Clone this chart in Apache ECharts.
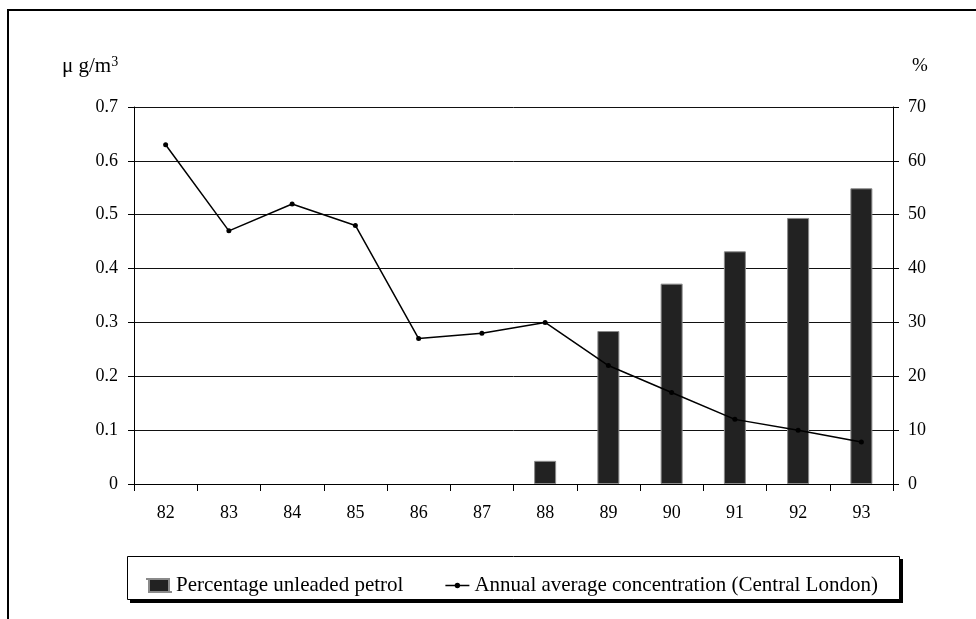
<!DOCTYPE html>
<html>
<head>
<meta charset="utf-8">
<script src="https://cdn.jsdelivr.net/npm/echarts@6/dist/echarts.min.js"></script>
<style>
html,body{margin:0;padding:0;background:#fff;}
#c{width:976px;height:619px;}
</style>
</head>
<body>
<div id="c"></div>
<script>
var categories = ['82','83','84','85','86','87','88','89','90','91','92','93'];
var unleadedPct = [null,null,null,null,null,null,4.3,28.4,37.2,43.2,49.4,54.9];
var leadConc = [0.63,0.47,0.52,0.48,0.27,0.28,0.30,0.22,0.17,0.12,0.10,0.078];
var leftTicks = ['0','0.1','0.2','0.3','0.4','0.5','0.6','0.7'];
var rightTicks = ['0','10','20','30','40','50','60','70'];

var FONT = '"Liberation Serif", "Times New Roman", serif';
var barIcon = 'path://M0,0h0.01v0.01h-0.01zM24,13h-0.01v-0.01h0.01zM2,0h20v13h-20z';
var lineIcon = 'path://M0,0h0.01v0.01h-0.01zM24,13h-0.01v-0.01h0.01zM0,5.8h9.6v1.5h-9.6zM14.4,5.8h9.6v1.5h-9.6zM9.3,6.55a2.7,2.7 0 1,1 5.4,0a2.7,2.7 0 1,1 -5.4,0z';

var chart = echarts.init(document.getElementById('c'), null, {renderer:'canvas'});
chart.setOption({
  animation:false,
  backgroundColor:'#fff',
  textStyle:{fontFamily:FONT},
  grid:{left:134, right:83, top:107, bottom:135},
  graphic:[
    {type:'rect', shape:{x:8, y:10, width:1000, height:700}, style:{fill:null, stroke:'#000', lineWidth:2}, z:0},
    {type:'rect', shape:{x:130, y:559, width:773, height:44}, style:{fill:'#000'}, z:1},
    {type:'rect', shape:{x:127.5, y:556.5, width:772, height:43},
     style:{fill:'#fff', stroke:'#000', lineWidth:1}, z:2},
    {type:'text', left:62, top:55, z:5,
     style:{text:'{a|μ g/m}{b|3}', fontFamily:FONT,
       rich:{a:{fontSize:21, fontFamily:FONT, fill:'#000'}, b:{fontSize:14, fontFamily:FONT, fill:'#000', verticalAlign:'top', padding:[0,0,9,0]}}}},
    {type:'text', left:912, top:57, z:5, style:{text:'%', fontSize:19, fontFamily:FONT, fill:'#000'}}
  ],
  legend:{
    left:141, top:570, itemGap:42, itemWidth:24, itemHeight:13, symbolKeepAspect:true,
    textStyle:{fontSize:21, fontFamily:FONT, color:'#000'},
    data:[{name:'Percentage unleaded petrol', icon:barIcon},
          {name:'Annual average concentration (Central London)', icon:lineIcon}],
    z:10
  },
  xAxis:{
    type:'category', data:categories, boundaryGap:true,
    axisLine:{lineStyle:{color:'#000', width:1}},
    axisTick:{show:true, length:7, interval:0, lineStyle:{color:'#000'}},
    axisLabel:{fontSize:18, fontFamily:FONT, color:'#000', margin:20, interval:0},
    splitLine:{show:false}
  },
  yAxis:[
    {type:'value', min:0, max:0.7, interval:0.1, position:'left',
     axisLine:{show:true, lineStyle:{color:'#000'}},
     axisTick:{show:true, length:6, lineStyle:{color:'#000'}},
     axisLabel:{fontSize:18, fontFamily:FONT, color:'#000', margin:16,
       formatter:function(v){ return leftTicks[Math.round(v*10)]; }},
     splitLine:{show:true, lineStyle:{color:'#111', width:1}}},
    {type:'value', min:0, max:70, interval:10, position:'right',
     axisLine:{show:true, lineStyle:{color:'#000'}},
     axisTick:{show:true, length:6, lineStyle:{color:'#000'}},
     axisLabel:{fontSize:18, fontFamily:FONT, color:'#000', margin:15,
       formatter:function(v){ return rightTicks[Math.round(v/10)]; }},
     splitLine:{show:false}}
  ],
  series:[
    {name:'Percentage unleaded petrol', type:'bar', yAxisIndex:1, data:unleadedPct,
     barWidth:22, itemStyle:{color:'#222222', borderColor:'#8a8a8a', borderWidth:1}, z:2},
    {name:'Annual average concentration (Central London)', type:'line', yAxisIndex:0, data:leadConc,
     symbol:'circle', symbolSize:5, showSymbol:true,
     lineStyle:{color:'#000', width:1.5}, itemStyle:{color:'#000'}, z:3}
  ]
});
</script>
</body>
</html>
